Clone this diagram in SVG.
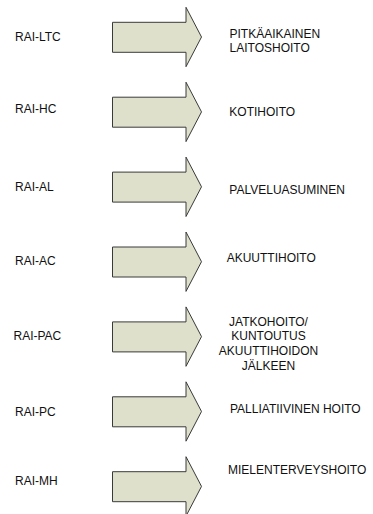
<svg xmlns="http://www.w3.org/2000/svg" xmlns:xlink="http://www.w3.org/1999/xlink" width="373" height="514" viewBox="0 0 373 514">
  <style>
    text { font-family: "Liberation Sans", Arial, sans-serif; font-size: 12px; fill: #111; }
    .arrow { fill: #dee0cb; stroke: #3a3a3a; stroke-width: 1; stroke-linejoin: miter; }
    .c { text-anchor: middle; }
  </style>
  <defs>
    <path id="bigArrow" class="arrow" d="M112.5,15 H186 V0 L201.5,29.7 L186,59.4 V45 H112.5 Z"/>
  </defs>
  <rect width="373" height="514" fill="#fff"/>
  <g id="connectors">
    <use xlink:href="#bigArrow" href="#bigArrow" transform="translate(0,7.3)"/>
    <use xlink:href="#bigArrow" href="#bigArrow" transform="translate(0,82.2)"/>
    <use xlink:href="#bigArrow" href="#bigArrow" transform="translate(0,157.1)"/>
    <use xlink:href="#bigArrow" href="#bigArrow" transform="translate(0,232)"/>
    <use xlink:href="#bigArrow" href="#bigArrow" transform="translate(0,306.9)"/>
    <use xlink:href="#bigArrow" href="#bigArrow" transform="translate(0,381.8)"/>
    <use xlink:href="#bigArrow" href="#bigArrow" transform="translate(0,456.7)"/>
  </g>
  <g id="rai-ltc"><text x="15" y="41">RAI-LTC</text></g>
  <g id="rai-hc"><text x="15" y="112.5">RAI-HC</text></g>
  <g id="rai-al"><text x="15" y="191">RAI-AL</text></g>
  <g id="rai-ac"><text x="15" y="265">RAI-AC</text></g>
  <g id="rai-pac"><text x="13.5" y="340">RAI-PAC</text></g>
  <g id="rai-pc"><text x="15" y="416">RAI-PC</text></g>
  <g id="rai-mh"><text x="15" y="485">RAI-MH</text></g>

  <g id="pitkaaikainen"><text x="229.5" y="37.5">PITKÄAIKAINEN</text><text x="229.5" y="51.7">LAITOSHOITO</text></g>
  <g id="kotihoito"><text x="229.3" y="115.5">KOTIHOITO</text></g>
  <g id="palveluasuminen"><text x="229.3" y="194">PALVELUASUMINEN</text></g>
  <g id="akuuttihoito"><text x="226.7" y="261.5">AKUUTTIHOITO</text></g>
  <g id="jatkohoito">
    <text class="c" x="268.5" y="325.5">JATKOHOITO/</text>
    <text class="c" x="268.5" y="340">KUNTOUTUS</text>
    <text class="c" x="268.5" y="355">AKUUTTIHOIDON</text>
    <text class="c" x="268.5" y="370">JÄLKEEN</text>
  </g>
  <g id="palliatiivinen"><text x="230" y="412.5">PALLIATIIVINEN HOITO</text></g>
  <g id="mielenterveyshoito"><text x="228" y="474">MIELENTERVEYSHOITO</text></g>
</svg>
